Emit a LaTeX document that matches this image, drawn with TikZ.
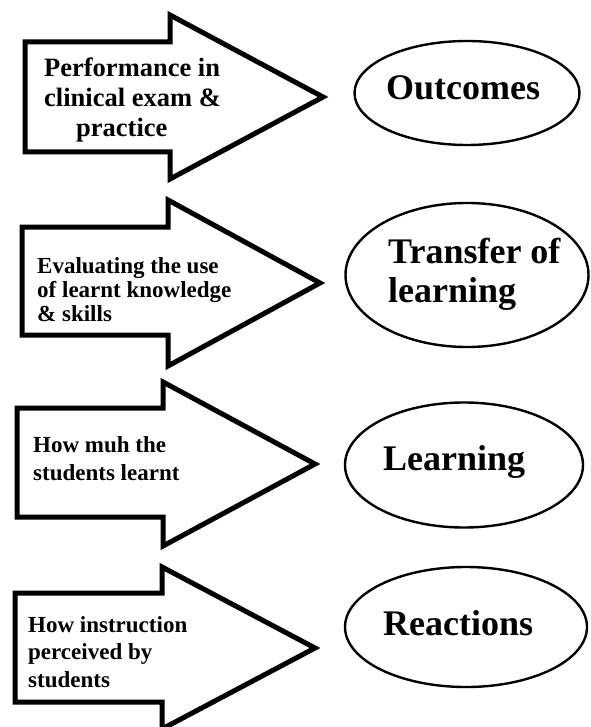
\documentclass[tikz,border=0pt]{standalone}
\usepackage{fontspec}
\setmainfont{Liberation Serif}
\usetikzlibrary{shapes.geometric}
\begin{document}
\begin{tikzpicture}[x=1pt,y=-1pt,
  bigarrow/.style={draw=black,line width=5pt,line join=miter,fill=white},
  oval/.style={ellipse,draw=black,line width=2.4pt,inner sep=0pt},
  arrowtext/.style={anchor=base west,inner sep=0pt,align=left,font=\bfseries},
  ovaltext/.style={anchor=base west,inner sep=0pt,align=left,font=\fontsize{36}{39}\selectfont\bfseries}]
\useasboundingbox (0,0) rectangle (590,727);
\fill[white] (0,0) rectangle (590,727);

% block arrows
\draw[bigarrow] (25,42) -- (170,42) -- (170,15) -- (323,97) -- (170,179) -- (170,152) -- (25,152) -- cycle;
\draw[bigarrow] (22,227) -- (168,227) -- (168,200) -- (320,283) -- (168,366) -- (168,335) -- (22,335) -- cycle;
\draw[bigarrow] (17,408) -- (163,408) -- (163,382) -- (315,464) -- (163,546) -- (163,517) -- (17,517) -- cycle;
\draw[bigarrow] (15,593) -- (162,593) -- (162,567) -- (315,648) -- (162,729) -- (162,702) -- (15,702) -- cycle;

% arrow labels (anchored at the baseline of their last line)
\node[arrowtext,font=\fontsize{26.5}{30}\selectfont\bfseries] (perf) at (44,137)
  {Performance in\\clinical exam \&\\\hspace*{32pt}practice};
\node[arrowtext,font=\fontsize{23}{24}\selectfont\bfseries] (eval) at (37,321)
  {Evaluating the use\\of learnt knowledge\\\& skills};
\node[arrowtext,font=\fontsize{23}{28}\selectfont\bfseries] (much) at (33,480)
  {How muh the\\students learnt};
\node[arrowtext,font=\fontsize{23}{27.5}\selectfont\bfseries] (instr) at (28,687)
  {How instruction\\perceived by\\students};

% ovals
\node[oval,minimum width=225pt,minimum height=104pt] (outc) at (467,93) {};
\node[oval,minimum width=243pt,minimum height=144pt] (trans) at (467,275) {};
\node[oval,minimum width=238pt,minimum height=125pt] (learn) at (464,465) {};
\node[oval,minimum width=242pt,minimum height=120pt] (react) at (466,627) {};

\node[ovaltext] (outcT) at (386,100) {Outcomes};
\node[ovaltext] (transT) at (388,302) {Transfer of\\learning};
\node[ovaltext] (learnT) at (383,470) {Learning};
\node[ovaltext] (reactT) at (383,635) {Reactions};
\end{tikzpicture}
\end{document}
